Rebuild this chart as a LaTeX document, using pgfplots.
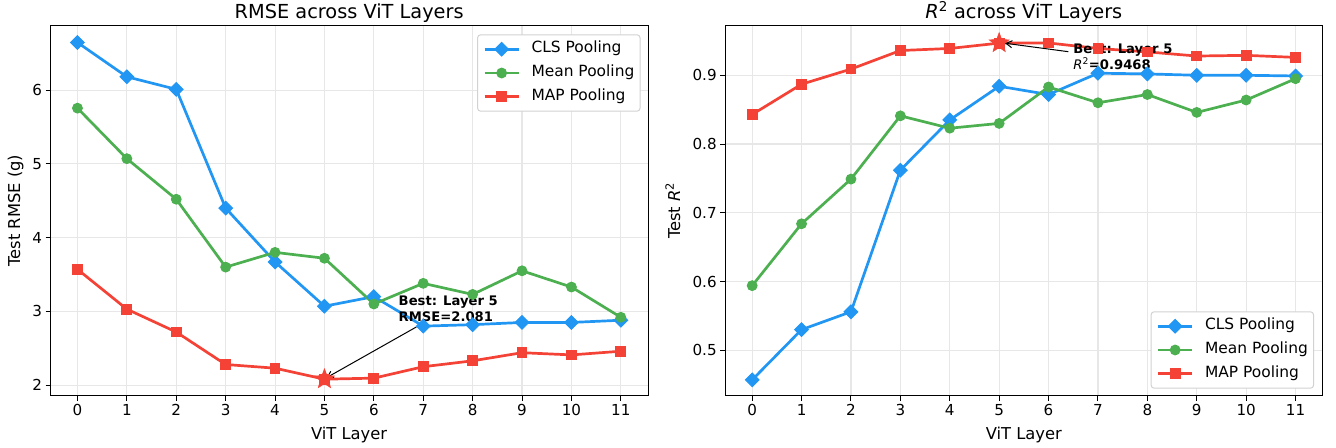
\documentclass[border=0pt]{standalone}
\usepackage{fontspec}
\setmainfont{DejaVu Sans}
\usepackage{pgfplots}
\pgfplotsset{compat=1.18}
\usetikzlibrary{arrows.meta}

\definecolor{cblue}{HTML}{2196F3}
\definecolor{cgreen}{HTML}{4CAF50}
\definecolor{cred}{HTML}{F44336}
\definecolor{gridc}{RGB}{231,231,231}
\definecolor{legc}{RGB}{210,210,210}

\pgfdeclareplotmark{dmd}{%
  \pgfpathmoveto{\pgfqpoint{0pt}{\pgfplotmarksize}}%
  \pgfpathlineto{\pgfqpoint{\pgfplotmarksize}{0pt}}%
  \pgfpathlineto{\pgfqpoint{0pt}{-\pgfplotmarksize}}%
  \pgfpathlineto{\pgfqpoint{-\pgfplotmarksize}{0pt}}%
  \pgfpathclose\pgfusepathqfillstroke}
\pgfdeclareplotmark{fstar}{%
  \pgfpathmoveto{\pgfpointpolar{90}{\pgfplotmarksize}}%
  \pgfpathlineto{\pgfpointpolar{126}{0.42\pgfplotmarksize}}%
  \pgfpathlineto{\pgfpointpolar{162}{\pgfplotmarksize}}%
  \pgfpathlineto{\pgfpointpolar{198}{0.42\pgfplotmarksize}}%
  \pgfpathlineto{\pgfpointpolar{234}{\pgfplotmarksize}}%
  \pgfpathlineto{\pgfpointpolar{270}{0.42\pgfplotmarksize}}%
  \pgfpathlineto{\pgfpointpolar{306}{\pgfplotmarksize}}%
  \pgfpathlineto{\pgfpointpolar{342}{0.42\pgfplotmarksize}}%
  \pgfpathlineto{\pgfpointpolar{18}{\pgfplotmarksize}}%
  \pgfpathlineto{\pgfpointpolar{54}{0.42\pgfplotmarksize}}%
  \pgfpathclose\pgfusepathqfillstroke}

\pgfplotsset{
  myaxis/.style={
    scale only axis, width=597.7bp, height=370.7bp,
    xmin=-0.55, xmax=11.55,
    xtick={0,1,2,3,4,5,6,7,8,9,10,11},
    xticklabels={0,1,2,3,4,5,6,7,8,9,10,11},
    tick align=outside, tick pos=left,
    major tick length=4.8bp,
    tick style={black, line width=1bp},
    axis line style={black, line width=1bp},
    grid=major, grid style={gridc, line width=1.1bp},
    ticklabel style={font=\fontsize{15.2}{18}\selectfont},
    every axis title/.style={font=\fontsize{19.4}{23}\selectfont, at={(axis description cs:0.5,1)}, anchor=base, yshift=6.3bp},
    every axis x label/.style={font=\fontsize{16.4}{20}\selectfont, at={(axis description cs:0.5,0)}, anchor=base, yshift=-43bp},
    legend cell align=left,
    legend style={font=\fontsize{15.5}{18}\selectfont, draw=legc, line width=1bp, rounded corners=3bp, fill=white,
      inner xsep=5.7bp, inner ysep=7.4bp, row sep=9.8bp,
      nodes={inner sep=0pt, text height=10.5bp, text depth=3.5bp},
      /tikz/every odd column/.append style={column sep=11.5bp}},
    legend image code/.code={\draw[sharp corners, mark repeat=2, mark phase=2] plot coordinates {(0bp,0bp) (17bp,0bp) (34bp,0bp)};},
  },
  cls/.style={cblue, line width=2.7bp, mark=dmd, mark size=6.8bp, mark options={solid, sharp corners, line width=1bp, fill=cblue}},
  mean/.style={cgreen, line width=2.7bp, mark=*, mark size=4.9bp, mark options={solid, line width=1bp, fill=cgreen}},
  map/.style={cred, line width=2.7bp, mark=square*, mark size=4.9bp, mark options={solid, sharp corners, line width=1bp, fill=cred}},
}

\begin{document}
\begin{tikzpicture}
\path[use as bounding box] (0bp,0bp) rectangle (1336bp,448bp);

\begin{axis}[myaxis, at={(50.3bp,52bp)}, anchor=south west,
  ymin=1.853, ymax=6.878,
  ytick={2,3,4,5,6}, yticklabels={2,3,4,5,6},
  title={RMSE across ViT Layers},
  xlabel={ViT Layer},
  ylabel={Test RMSE (g)},
  every axis y label/.style={font=\fontsize{16.4}{20}\selectfont, at={(axis description cs:-0.0505,0.5)}, rotate=90, anchor=base},
  legend style={at={(axis description cs:0.9875,0.9757)}, anchor=north east},
]
\addplot[cls] coordinates {(0,6.645) (1,6.18) (2,6.01) (3,4.40) (4,3.67) (5,3.07) (6,3.20) (7,2.80) (8,2.82) (9,2.85) (10,2.85) (11,2.88)};
\addlegendentry{CLS Pooling}
\addplot[mean] coordinates {(0,5.755) (1,5.07) (2,4.52) (3,3.60) (4,3.80) (5,3.72) (6,3.10) (7,3.38) (8,3.23) (9,3.55) (10,3.33) (11,2.92)};
\addlegendentry{Mean Pooling}
\addplot[map] coordinates {(0,3.57) (1,3.03) (2,2.72) (3,2.28) (4,2.23) (5,2.081) (6,2.095) (7,2.25) (8,2.33) (9,2.44) (10,2.41) (11,2.46)};
\addlegendentry{MAP Pooling}
\addplot[forget plot, only marks, mark=fstar, mark size=10.5bp, mark options={cred, fill=cred, line width=0.5bp}] coordinates {(5,2.081)};
\draw[-{Straight Barb[length=6bp,width=7bp]}, line width=1bp, black] (axis cs:6.864,2.79) -- (axis cs:5.04,2.10);
\node[anchor=base west, inner sep=0pt, font=\fontsize{13.2}{16}\selectfont\bfseries] at (axis cs:6.5,3.081) {Best: Layer 5};
\node[anchor=base west, inner sep=0pt, font=\fontsize{13.2}{16}\selectfont\bfseries] at (axis cs:6.5,2.868) {RMSE=2.081};
\end{axis}

\begin{axis}[myaxis, at={(725bp,52bp)}, anchor=south west,
  ymin=0.4335, ymax=0.9727,
  ytick={0.5,0.6,0.7,0.8,0.9}, yticklabels={0.5,0.6,0.7,0.8,0.9},
  title={\textit{R}\textsuperscript{2} across ViT Layers},
  xlabel={ViT Layer},
  ylabel={Test \textit{R}\textsuperscript{2}},
  every axis y label/.style={font=\fontsize{16.4}{20}\selectfont, at={(axis description cs:-0.075,0.5)}, rotate=90, anchor=base},
  legend style={at={(axis description cs:0.9855,0.0197)}, anchor=south east},
]
\addplot[cls] coordinates {(0,0.457) (1,0.530) (2,0.556) (3,0.762) (4,0.835) (5,0.884) (6,0.872) (7,0.903) (8,0.902) (9,0.900) (10,0.900) (11,0.899)};
\addlegendentry{CLS Pooling}
\addplot[mean] coordinates {(0,0.594) (1,0.684) (2,0.749) (3,0.841) (4,0.823) (5,0.830) (6,0.883) (7,0.860) (8,0.872) (9,0.846) (10,0.864) (11,0.895)};
\addlegendentry{Mean Pooling}
\addplot[map] coordinates {(0,0.843) (1,0.887) (2,0.909) (3,0.936) (4,0.939) (5,0.9468) (6,0.947) (7,0.939) (8,0.934) (9,0.928) (10,0.929) (11,0.926)};
\addlegendentry{MAP Pooling}
\addplot[forget plot, only marks, mark=fstar, mark size=10.5bp, mark options={cred, fill=cred, line width=0.5bp}] coordinates {(5,0.9468)};
\draw[-{Straight Barb[length=6bp,width=7bp]}, line width=1bp, black] (axis cs:6.40,0.9343) -- (axis cs:5.12,0.9466);
\node[anchor=base west, inner sep=0pt, font=\fontsize{13.2}{16}\selectfont\bfseries] at (axis cs:6.5,0.9316) {Best: Layer 5};
\node[anchor=base west, inner sep=0pt, font=\fontsize{13.2}{16}\selectfont\bfseries] at (axis cs:6.5,0.9088) {{\mdseries\itshape R}\textsuperscript{\mdseries 2}=0.9468};
\end{axis}
\end{tikzpicture}
\end{document}
